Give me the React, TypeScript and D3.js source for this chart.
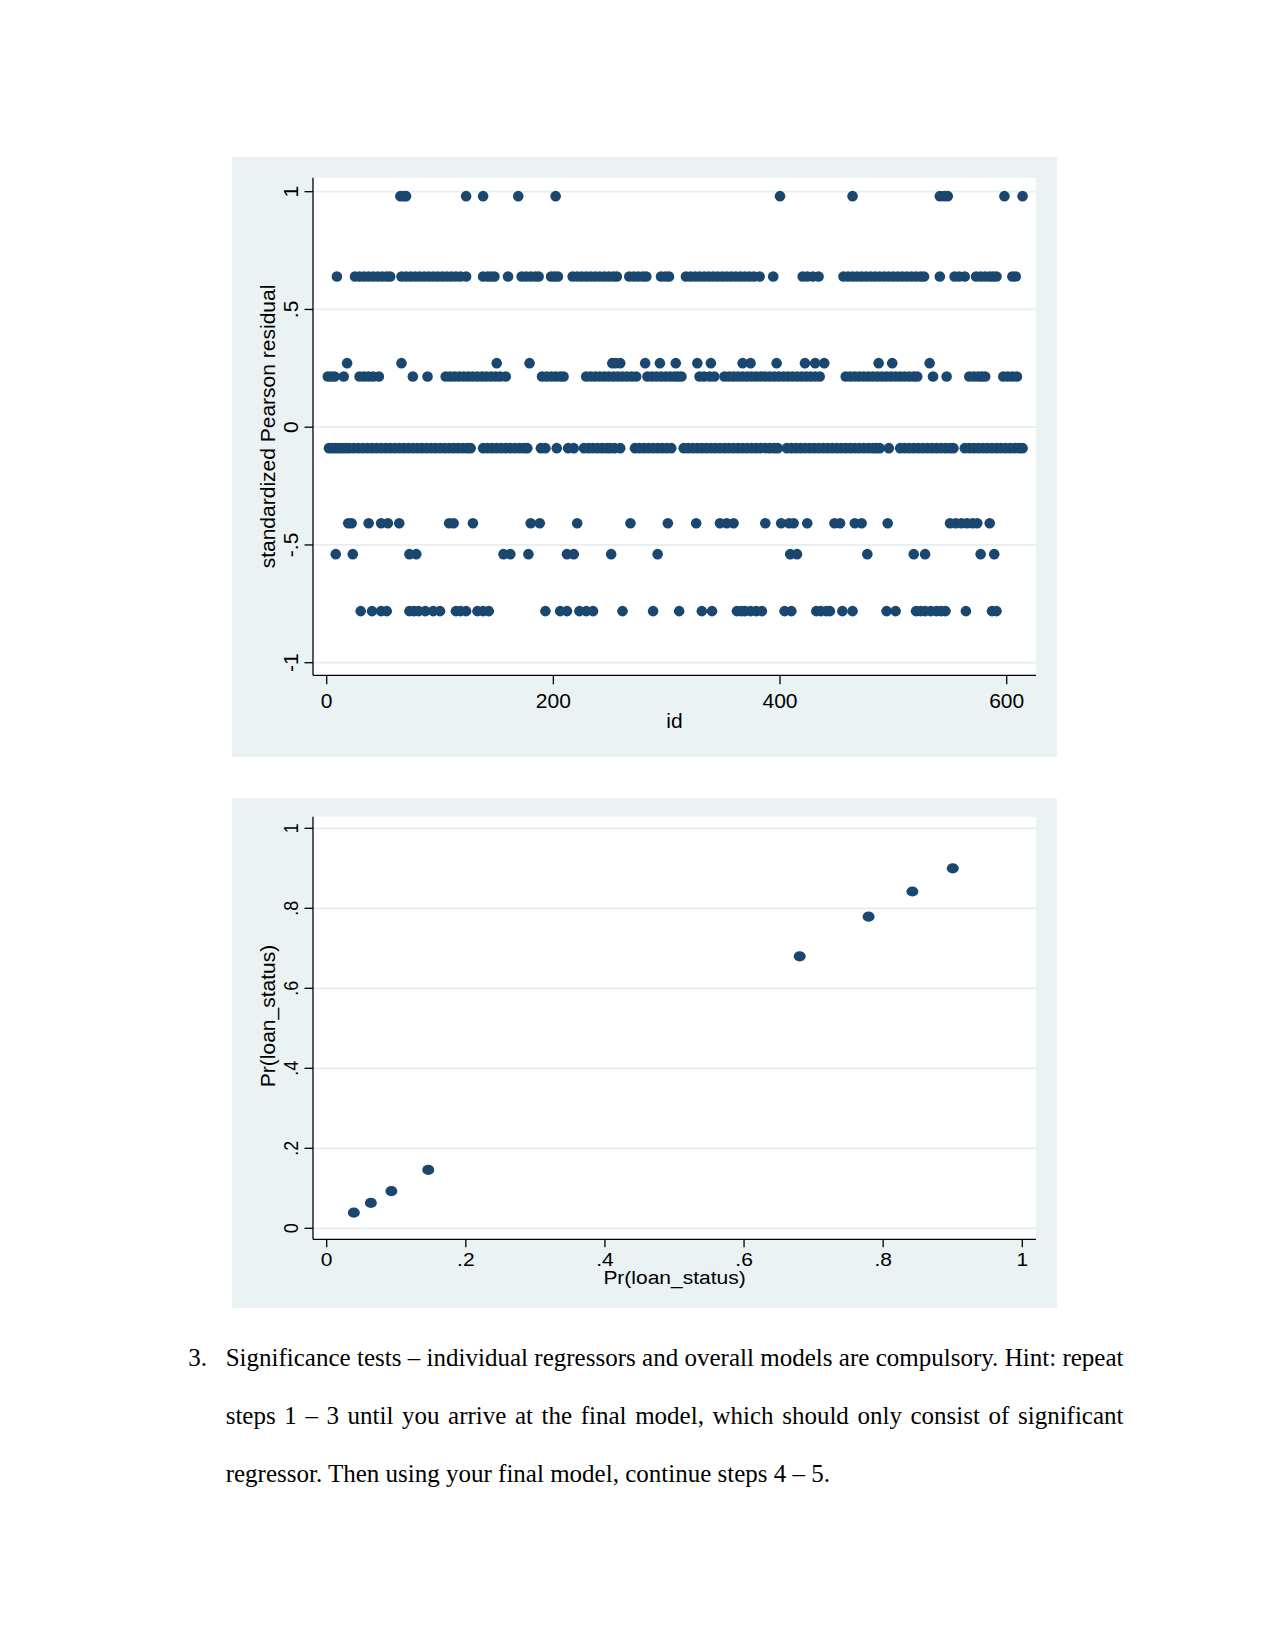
import React, { useLayoutEffect, useRef } from 'react';
import * as d3 from 'd3';

// residual levels
const levelValues = [0.981, 0.64, 0.272, 0.215, -0.089, -0.408, -0.539, -0.781];

// ids (x positions) of the dots on each residual level
const idsLevel1 = [65, 68, 70, 123, 138, 169, 202, 400, 464, 541, 545, 548, 598, 614];
const idsLevel2 = [
  9, 25, 29, 33, 37, 41, 45, 49, 53, 56, 66, 70, 74, 78, 82, 86, 90, 94, 98, 102, 106, 110, 114, 118, 123,
  138, 142, 145, 148, 160, 172, 176, 180, 184, 187, 198, 201, 204, 217, 221, 225, 229, 233, 237, 241, 245,
  249, 253, 256, 267, 271, 275, 279, 282, 295, 299, 302, 317, 321, 325, 329, 333, 337, 341, 345, 349, 353,
  357, 361, 365, 369, 373, 377, 382, 394, 420, 424, 429, 434, 456, 460, 464, 468, 472, 476, 480, 484, 488,
  492, 496, 500, 504, 508, 512, 516, 520, 524, 527, 541, 554, 558, 563, 573, 577, 581, 585, 588, 591, 605, 608,
];
const idsLevel3 = [18, 66, 150, 179, 252, 255, 259, 281, 294, 308, 327, 339, 367, 374, 397, 422, 431, 439, 487, 499, 532];
const idsLevel4 = [
  1, 4, 7, 15, 29, 33, 37, 41, 46, 76, 89, 105, 109, 113, 117, 121, 125, 129, 133, 137, 141, 145, 149, 153,
  158, 190, 194, 198, 202, 206, 209, 229, 233, 237, 241, 245, 249, 253, 257, 261, 265, 269, 273, 283, 287,
  291, 295, 299, 303, 307, 310, 313, 329, 333, 338, 342, 351, 355, 359, 363, 367, 371, 375, 379, 383, 387,
  391, 395, 399, 403, 407, 411, 415, 419, 423, 427, 431, 435, 458, 462, 466, 470, 474, 478, 482, 486, 490,
  494, 498, 502, 506, 510, 514, 518, 521, 535, 547, 567, 571, 575, 578, 581, 597, 601, 605, 609,
];
const idsLevel5 = [
  2, 5, 8, 11, 14, 17, 20, 24, 28, 32, 36, 40, 44, 48, 52, 56, 60, 64, 68, 72, 76, 80, 84, 88, 92, 96, 100,
  104, 108, 112, 116, 120, 124, 127, 138, 142, 146, 150, 154, 158, 162, 166, 170, 174, 177, 189, 193, 203,
  213, 218, 227, 231, 235, 239, 243, 247, 250, 254, 259, 272, 276, 280, 284, 288, 292, 296, 300, 304, 315,
  319, 323, 327, 331, 335, 339, 343, 347, 351, 355, 359, 363, 367, 371, 375, 379, 383, 387, 391, 395, 398,
  406, 410, 414, 418, 422, 426, 430, 434, 438, 442, 446, 450, 454, 458, 462, 466, 470, 474, 478, 482, 485,
  488, 496, 506, 510, 514, 518, 522, 526, 530, 534, 538, 542, 546, 550, 553, 563, 567, 571, 575, 579, 583,
  587, 591, 595, 599, 603, 607, 611, 614,
];
const idsLevel6 = [
  19, 22, 37, 48, 54, 64, 108, 112, 129, 180, 188, 221, 268, 301, 326, 347, 353, 359, 387, 401, 408, 412,
  424, 448, 453, 466, 472, 495, 550, 555, 560, 565, 570, 574, 585,
];
const idsLevel7 = [8, 23, 73, 79, 156, 162, 178, 212, 218, 251, 292, 409, 415, 477, 518, 528, 577, 589];
const idsLevel8 = [
  30, 40, 48, 53, 73, 77, 81, 87, 94, 100, 114, 118, 123, 133, 138, 143, 193, 206, 212, 223, 229, 235, 261,
  288, 311, 331, 340, 362, 366, 369, 374, 379, 384, 404, 410, 432, 436, 441, 444, 455, 464, 494, 502, 520,
  524, 528, 533, 538, 542, 546, 564, 587, 591,
];
const idsByLevel = [idsLevel1, idsLevel2, idsLevel3, idsLevel4, idsLevel5, idsLevel6, idsLevel7, idsLevel8];

const topYTicks = [-1, -0.5, 0, 0.5, 1];
const topYLabels = ['-1', '-.5', '0', '.5', '1'];
const topXTicks = [0, 200, 400, 600];

// predicted probability, plotted against itself
const prValues = [0.039, 0.0635, 0.093, 0.146, 0.68, 0.779, 0.842, 0.9];
const lowTicks = [0, 0.2, 0.4, 0.6, 0.8, 1];
const lowLabels = ['0', '.2', '.4', '.6', '.8', '1'];

const paragraphLines = [
  'Significance tests – individual regressors and overall models are compulsory. Hint: repeat',
  'steps 1 – 3 until you arrive at the final model, which should only consist of significant',
  'regressor. Then using your final model, continue steps 4 – 5.',
];

const NAVY = '#1a476f';
const PANEL = '#eaf2f3';
const GRID = '#e6eef0';
const SANS = '"Liberation Sans", Arial, sans-serif';
const SERIF = '"Liberation Serif", "Times New Roman", serif';

const TopChart: React.FC = () => {
  const plot = { left: 313, right: 1036, top: 177.7, bottom: 675.3 };
  const x = d3.scaleLinear().domain([0, 600]).range([326.7, 1006.7]);
  const y = d3.scaleLinear().domain([-1, 1]).range([662.7, 191.7]);
  const points = idsByLevel.flatMap((ids, li) => ids.map(id => ({ id, v: levelValues[li] })));

  return (
    <g>
      <rect x={232} y={157} width={825} height={600} fill={PANEL} />
      <rect x={plot.left} y={plot.top} width={plot.right - plot.left} height={plot.bottom - plot.top} fill="#fff" />
      {topYTicks.map(t => (
        <line key={'g' + t} x1={plot.left} x2={plot.right} y1={y(t)} y2={y(t)} stroke={GRID} strokeWidth={1.8} />
      ))}
      {points.map((p, i) => (
        <circle key={i} cx={x(p.id)} cy={y(p.v)} r={5.3} fill={NAVY} />
      ))}
      <line x1={plot.left} x2={plot.left} y1={plot.top} y2={plot.bottom} stroke="#000" strokeWidth={1.3} />
      <line x1={plot.left} x2={plot.right} y1={plot.bottom} y2={plot.bottom} stroke="#000" strokeWidth={1.3} />
      {topYTicks.map((t, i) => (
        <g key={'yt' + t}>
          <line x1={plot.left - 8.5} x2={plot.left} y1={y(t)} y2={y(t)} stroke="#000" strokeWidth={1.3} />
          <text transform={`translate(298,${y(t)}) rotate(-90)`} textAnchor="middle" fontFamily={SANS} fontSize={21}>
            {topYLabels[i]}
          </text>
        </g>
      ))}
      {topXTicks.map(t => (
        <g key={'xt' + t}>
          <line x1={x(t)} x2={x(t)} y1={plot.bottom} y2={plot.bottom + 9} stroke="#000" strokeWidth={1.3} />
          <text x={x(t)} y={708.3} textAnchor="middle" fontFamily={SANS} fontSize={21}>
            {t}
          </text>
        </g>
      ))}
      <text x={(plot.left + plot.right) / 2} y={728.3} textAnchor="middle" fontFamily={SANS} fontSize={21}>
        id
      </text>
      <text transform={`translate(275,${(plot.top + plot.bottom) / 2}) rotate(-90)`} textAnchor="middle" fontFamily={SANS} fontSize={21}>
        standardized Pearson residual
      </text>
    </g>
  );
};

const LowerChart: React.FC = () => {
  const plot = { left: 313, right: 1036, top: 816.7, bottom: 1239.3 };
  const x = d3.scaleLinear().domain([0, 1]).range([326.7, 1022.3]);
  const y = d3.scaleLinear().domain([0, 1]).range([1228.3, 828.3]);
  const squash = 0.85;

  return (
    <g>
      <rect x={232} y={798.3} width={825} height={509.7} fill={PANEL} />
      <rect x={plot.left} y={plot.top} width={plot.right - plot.left} height={plot.bottom - plot.top} fill="#fff" />
      {lowTicks.map(t => (
        <line key={'g' + t} x1={plot.left} x2={plot.right} y1={y(t)} y2={y(t)} stroke={GRID} strokeWidth={1.8} />
      ))}
      {prValues.map((v, i) => (
        <ellipse key={i} cx={x(v)} cy={y(v)} rx={6} ry={5.1} fill={NAVY} />
      ))}
      <line x1={plot.left} x2={plot.left} y1={plot.top} y2={plot.bottom} stroke="#000" strokeWidth={1.3} />
      <line x1={plot.left} x2={plot.right} y1={plot.bottom} y2={plot.bottom} stroke="#000" strokeWidth={1.3} />
      {lowTicks.map((t, i) => (
        <g key={'yt' + t}>
          <line x1={plot.left - 8.5} x2={plot.left} y1={y(t)} y2={y(t)} stroke="#000" strokeWidth={1.3} />
          <text transform={`translate(298,${y(t)}) scale(1,${squash}) rotate(-90)`} textAnchor="middle" fontFamily={SANS} fontSize={21}>
            {lowLabels[i]}
          </text>
        </g>
      ))}
      {lowTicks.map((t, i) => (
        <g key={'xt' + t}>
          <line x1={x(t)} x2={x(t)} y1={plot.bottom} y2={plot.bottom + 8} stroke="#000" strokeWidth={1.3} />
          <text transform={`translate(${x(t)},1265.8) scale(1,${squash})`} textAnchor="middle" fontFamily={SANS} fontSize={21}>
            {lowLabels[i]}
          </text>
        </g>
      ))}
      <text transform={`translate(${(plot.left + plot.right) / 2},1284.3) scale(1,${squash})`} textAnchor="middle" fontFamily={SANS} fontSize={21}>
        Pr(loan_status)
      </text>
      <text transform={`translate(275,1016) rotate(-90)`} textAnchor="middle" fontFamily={SANS} fontSize={21}>
        Pr(loan_status)
      </text>
    </g>
  );
};

const Paragraph: React.FC = () => {
  const refs = useRef<(SVGTextElement | null)[]>([]);
  const left = 225.7;
  const right = 1123.5;
  const baselines = [1366, 1424.3, 1481.7];

  // justify the first two lines by spreading the spare width over the word gaps
  useLayoutEffect(() => {
    refs.current.forEach((el, i) => {
      if (!el || i === paragraphLines.length - 1) return;
      el.setAttribute('word-spacing', '0');
      const natural = el.getComputedTextLength();
      const gaps = paragraphLines[i].split(' ').length - 1;
      if (gaps > 0) el.setAttribute('word-spacing', String((right - left - natural) / gaps));
    });
  }, []);

  return (
    <g fontFamily={SERIF} fontSize={25} fill="#000">
      <text x={188.3} y={baselines[0]}>3.</text>
      {paragraphLines.map((line, i) => (
        <text key={i} ref={el => { refs.current[i] = el; }} x={left} y={baselines[i]}>
          {line}
        </text>
      ))}
    </g>
  );
};

const App: React.FC = () => (
  <svg
    width={1275}
    height={1650}
    viewBox="0 0 1275 1650"
    style={{ position: 'absolute', left: 0, top: 0, display: 'block', background: '#fff' }}
  >
    <TopChart />
    <LowerChart />
    <Paragraph />
  </svg>
);

export default App;
